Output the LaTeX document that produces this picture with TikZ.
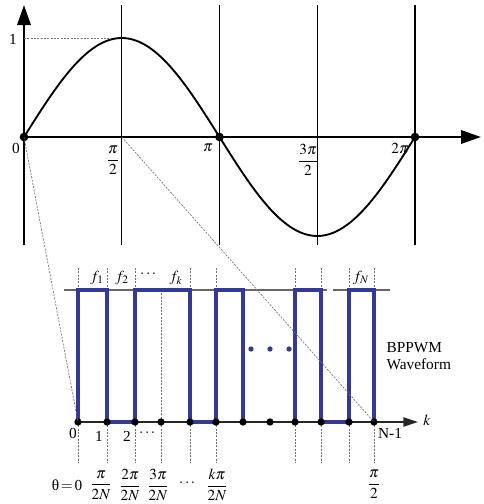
\documentclass[tikz,border=0pt]{standalone}
\usepackage{amsmath}
\usepackage{mathptmx}
\usepackage{fontspec}
\setmainfont{Liberation Serif}
\usetikzlibrary{arrows.meta}
\definecolor{pwm}{RGB}{52,56,150}

\begin{document}
\begin{tikzpicture}[
  x=0.75pt,y=-0.75pt,
  font=\fontsize{11.5}{13}\selectfont,
  >={Triangle[length=15pt,width=10pt]},
  axis/.style={line width=1.8pt,black},
  kaxis/.style={line width=1.1pt,black!85,-{Triangle[length=11pt,width=7pt]}},
  grid/.style={line width=0.8pt,black},
  guide/.style={line width=0.5pt,black!55,dash pattern=on 1.5pt off 1pt},
  level/.style={line width=0.9pt,black!60},
  pulse/.style={line width=2.5pt,pwm,line join=miter},
  dot/.style={circle,fill=black,inner sep=0pt,minimum size=6.5pt},
  bdot/.style={circle,fill=pwm,inner sep=0pt,minimum size=4pt},
  lbl/.style={inner sep=1pt}
]
\useasboundingbox (0,0) rectangle (484,504);

% Sine reference
\coordinate (ybot) at (24,245);
\coordinate (ytop) at (24,5);
\coordinate (xend) at (481,137);
\coordinate (o) at (24,137);
\coordinate (hp) at (121.75,137);
\coordinate (peak) at (121.75,38);
\coordinate (yone) at (24,38);
\foreach \i in {1,2,3,4}
  \draw[grid] (24+97.75*\i,5) -- (24+97.75*\i,245);
\draw[axis,->] (ybot) -- (ytop);
\draw[axis,->] (o) -- (xend);
\draw[guide] (yone) -- (peak);
\draw[line width=1.4pt] plot[domain=0:360,samples=120,smooth] ({24+1.08611*\x},{137-99*sin(\x)});
\node[dot] (p0) at (o) {};
\node[dot] (p2) at (219.5,137) {};
\node[dot] (p4) at (415,137) {};
\node[lbl] (lone) at (13,39) {1};
\node[lbl] (lzero) at (16,148) {0};
\node[lbl] (lhalf) at (113,160) {$\dfrac{\pi}{2}$};
\node[lbl] (lpi) at (208,148) {$\pi$};
\node[lbl] (lthree) at (308,160) {$\dfrac{3\pi}{2}$};
\node[lbl] (ltwo) at (400,148) {$2\pi$};

% BPPWM samples
\coordinate (hi) at (0,290);
\foreach \x [count=\k from 0] in {78,107,135,161,190,216,243,270,295,321,349,374}
  \coordinate (k\k) at (\x,422);
\draw[level] (64,290) -- (327,290);
\draw[level] (333,290) -- (390,290);
\draw[kaxis] (k0) -- (418,422);
\foreach \k in {0,1,2,3,4,5,8,9,10,11}
  \draw[guide] (k\k) -- ++(0,41);
\foreach \k in {0,1,2,4,5,8,9,10,11}
  \draw[guide] (k\k |- hi) -- ++(0,-23);
\draw[guide] (k3 |- hi) -- (k3);
\draw[pulse] (k0) -- (k0 |- hi) -- (k1 |- hi) -- (k1) -- (k2) -- (k2 |- hi)
  -- (k4 |- hi) -- (k4) -- (k5) -- (k5 |- hi) -- (k6 |- hi) -- (k6);
\draw[pulse] (k8) -- (k8 |- hi) -- (k9 |- hi) -- (k9) -- (k10) -- (k10 |- hi)
  -- (k11 |- hi) -- (k11);
\foreach \k in {0,...,11}
  \node[dot,minimum size=5.5pt] (d\k) at (k\k) {};
\foreach \x [count=\j] in {251,270,289}
  \node[bdot] (b\j) at (\x,349) {};

% Zoom guides
\draw[guide] (o) -- (k0);
\draw[guide] (hp) -- (k11);

% Labels
\node[lbl] (f1) at (97,278) {$f_1$};
\node[lbl] (f2) at (122,278) {$f_2$};
\node[lbl] (fdots) at (149,274) {$\cdots$};
\node[lbl] (fk) at (176,278) {$f_k$};
\node[lbl] (fN) at (361,278) {$f_N$};
\node[lbl] (n0) at (73,433) {0};
\node[lbl] (n1) at (99,436) {1};
\node[lbl] (n2) at (127,436) {2};
\node[lbl] (ndots) at (148,433) {$\cdots$};
\node[lbl] (nlast) at (390,433) {N-1};
\node[lbl] (kk) at (427,420) {$k$};
\node[lbl] (theta) at (67,485) {θ$\,{=}\,$0};
\node[lbl] (t1) at (101,485) {$\dfrac{\pi}{2N}$};
\node[lbl] (t2) at (130,485) {$\dfrac{2\pi}{2N}$};
\node[lbl] (t3) at (158,485) {$\dfrac{3\pi}{2N}$};
\node[lbl] (tdots) at (188,483) {$\cdots$};
\node[lbl] (tk) at (217,485) {$\dfrac{k\pi}{2N}$};
\node[lbl] (tend) at (374,484) {$\dfrac{\pi}{2}$};
\node[lbl,align=left,anchor=west] (wave) at (385,356) {BPPWM\\Waveform};

\end{tikzpicture}
\end{document}
